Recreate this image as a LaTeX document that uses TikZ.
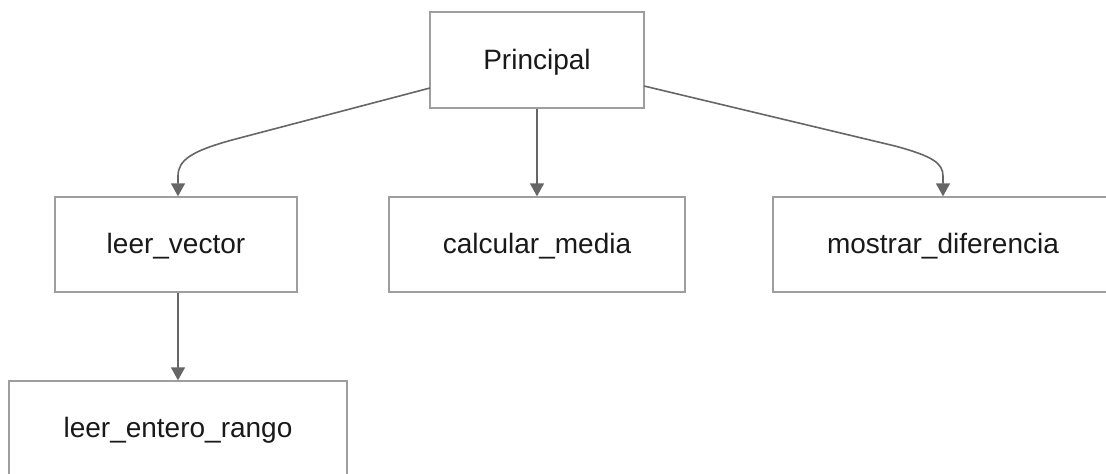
\documentclass[tikz,border=0pt]{standalone}
\usepackage{fontspec}
\setmainfont{Liberation Sans}
\usetikzlibrary{arrows.meta}
\definecolor{boxline}{HTML}{9E9E9E}
\definecolor{edgeline}{HTML}{666666}
\tikzset{
  modbox/.style={draw=boxline, line width=1.4pt, fill=white, rectangle,
    inner sep=0pt, minimum height=95pt, text height=24pt, text depth=6pt,
    font=\fontsize{28}{34}\selectfont, text=black!90},
  link/.style={draw=edgeline, line width=1.6pt,
    -{Triangle[length=13pt,width=14pt]}},
}
\begin{document}
\begin{tikzpicture}[x=1pt,y=-1pt]
  \useasboundingbox (0,0) rectangle (1106,474);
  \clip (0,0) rectangle (1106,474);

  % modules
  \node[modbox, minimum width=214pt, minimum height=96pt] (principal) at (537,60) {Principal};
  \node[modbox, minimum width=242pt] (leer) at (176,244.5) {leer\_vector};
  \node[modbox, minimum width=296pt] (media) at (537,244.5) {calcular\_media};
  \node[modbox, minimum width=340pt] (difer) at (943,244.5) {mostrar\_diferencia};
  \node[modbox, minimum width=338pt] (rango) at (178,428.5) {leer\_entero\_rango};

  % helper coordinates for the edge routes
  \coordinate (pl) at (430,88);
  \coordinate (pr) at (644,86);
  \coordinate (lx) at (178,0);
  \coordinate (dx) at (943,0);

  % calls
  \draw[link] (pl) -- (232,140) .. controls (192,151) and (178,160) .. (178,176)
    -- (lx |- leer.north);
  \draw[link] (principal.south) -- (media.north);
  \draw[link] (pr) -- (895,146) .. controls (932,156) and (943,163) .. (943,176)
    -- (dx |- difer.north);
  \draw[link] (lx |- leer.south) -- (rango.north);
\end{tikzpicture}
\end{document}
